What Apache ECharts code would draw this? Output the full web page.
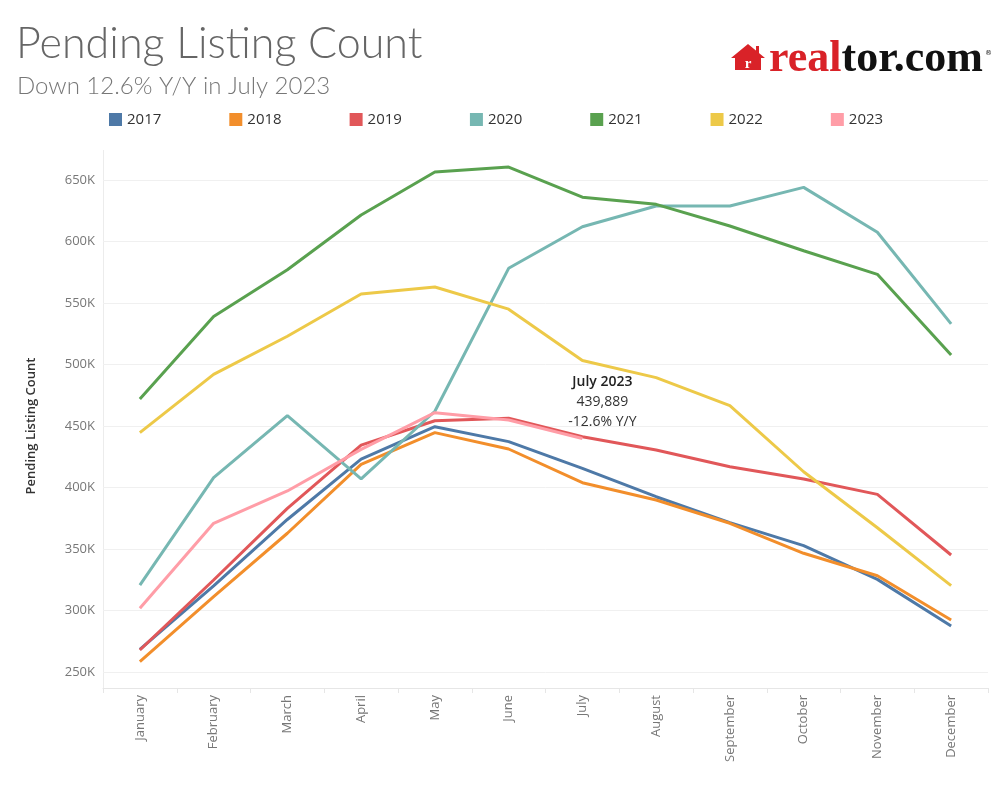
<!DOCTYPE html>
<html>
<head>
<meta charset="utf-8">
<script src="https://cdn.jsdelivr.net/npm/echarts@6/dist/echarts.min.js"></script>
<style>html,body{margin:0;padding:0;background:#fff;}#chart{width:1000px;height:800px;}</style>
</head>
<body>
<div id="chart"></div>
<script>
const months = ['January','February','March','April','May','June','July','August','September','October','November','December'];
const years = ['2017','2018','2019','2020','2021','2022','2023'];
const y2017 = [268400, 320000, 374000, 423000, 449400, 437300, 415600, 392500, 371400, 352700, 325300, 287400];
const y2018 = [258400, 311200, 362800, 418800, 444600, 431300, 403900, 389800, 370900, 346500, 328300, 292300];
const y2019 = [267900, 324800, 383000, 434500, 454300, 456300, 441300, 430500, 416900, 406900, 394400, 345100];
const y2020 = [320700, 408000, 458400, 407000, 462000, 578200, 612000, 628900, 628900, 644000, 607500, 533000];
const y2021 = [472000, 539000, 577000, 621500, 656500, 660500, 636000, 630200, 612600, 592500, 573300, 507700];
const y2022 = [444600, 492000, 523000, 557300, 563000, 545000, 503300, 489300, 466500, 412800, 367300, 320200];
const y2023 = [301800, 370900, 397200, 431000, 460800, 454900, 439889];
const yTicks = [250000, 300000, 350000, 400000, 450000, 500000, 550000, 600000, 650000];

const colors = ['#4e79a7','#f28e2b','#e15759','#76b7b2','#59a14f','#edc948','#ff9da7'];
const seriesData = [y2017, y2018, y2019, y2020, y2021, y2022, y2023];

const lastIdx = y2023.length - 1;
const lastVal = y2023[lastIdx];
const prevVal = y2022[lastIdx];
const yoy = ((lastVal / prevVal - 1) * 100).toFixed(1);

const chart = echarts.init(document.getElementById('chart'), null, {renderer: 'canvas'});

const series = years.map((y, i) => {
  const s = {
    name: y,
    type: 'line',
    data: seriesData[i],
    symbol: 'none',
    clip: false,
    lineStyle: {width: 3, color: colors[i]},
    itemStyle: {color: colors[i]},
    emphasis: {disabled: true},
    z: 2 + i
  };
  if (y === '2023') {
    s.markPoint = {
      symbol: 'circle',
      symbolSize: 0,
      data: [{coord: [months[lastIdx], lastVal]}],
      label: {
        show: true,
        position: 'inside',
        offset: [20, -36],
        align: 'center',
        verticalAlign: 'middle',
        lineHeight: 20,
        formatter: '{b|' + months[lastIdx] + ' 2023}\n{n|' + lastVal.toLocaleString('en-US') + '}\n{n|' + yoy + '% Y/Y}',
        rich: {
          b: {fontFamily: 'Open Sans', fontSize: 14, fontWeight: 600, color: '#222', lineHeight: 20},
          n: {fontFamily: 'Open Sans', fontSize: 14, color: '#333', lineHeight: 20}
        }
      }
    };
  }
  return s;
});

chart.setOption({
  backgroundColor: '#fff',
  animation: false,
  color: colors,
  title: [
    {text: 'Pending Listing Count', left: 11, top: 18,
     textStyle: {fontFamily: 'Lato', fontWeight: 300, fontSize: 43, color: '#666'}},
    {text: 'Down ' + Math.abs(yoy) + '% Y/Y in July 2023', left: 12, top: 69,
     textStyle: {fontFamily: 'Lato', fontWeight: 300, fontSize: 24, color: '#777'}}
  ],
  legend: {
    left: 104, top: 107,
    icon: 'rect',
    itemWidth: 13, itemHeight: 13, itemGap: 68,
    textStyle: {fontFamily: 'Open Sans', fontSize: 15, color: '#333'},
    data: years
  },
  grid: {left: 103, right: 12, top: 180, bottom: 128, containLabel: false},
  xAxis: {
    type: 'category',
    data: months,
    boundaryGap: true,
    offset: 16,
    axisLine: {show: true, lineStyle: {color: '#e6e6e6'}},
    axisTick: {show: true, length: 5, lineStyle: {color: '#e6e6e6'}},
    axisLabel: {rotate: 90, fontFamily: 'Open Sans', fontSize: 13, color: '#777', margin: 7}
  },
  yAxis: {
    type: 'value',
    min: yTicks[0], max: yTicks[yTicks.length - 1], interval: 50000,
    name: 'Pending Listing Count',
    nameLocation: 'middle',
    nameGap: 65,
    nameTextStyle: {fontFamily: 'Open Sans', fontSize: 13, fontWeight: 600, color: '#333'},
    axisLine: {show: false},
    axisTick: {show: false},
    splitLine: {lineStyle: {color: '#f0f0f0', width: 1}},
    axisLabel: {fontFamily: 'Open Sans', fontSize: 13, color: '#777', margin: 8,
      formatter: v => (v / 1000) + 'K'}
  },
  graphic: [
    {type: 'line', shape: {x1: 103.5, y1: 150, x2: 103.5, y2: 688}, style: {stroke: '#ececec', lineWidth: 1}, silent: true},
    {type: 'polygon', shape: {points: [[748,44],[765,58],[761,58],[761,70],[735,70],[735,58],[731,58]]}, style: {fill: '#d92228'}, silent: true},
    {type: 'rect', shape: {x: 756, y: 46, width: 3, height: 7}, style: {fill: '#d92228'}, silent: true},
    {type: 'text', x: 748, y: 64, style: {text: 'r', fill: '#fff', font: 'bold 15px "Liberation Serif"', align: 'center', verticalAlign: 'middle'}, silent: true},
    {type: 'text', x: 769, y: 60, silent: true,
     style: {
       text: '{r|real}{k|tor.com}',
       verticalAlign: 'middle', align: 'left',
       font: 'bold 44px "Liberation Serif"',
       rich: {
         r: {fill: '#d92228', fontFamily: 'Liberation Serif', fontWeight: 'bold', fontSize: 44},
         k: {fill: '#111', fontFamily: 'Liberation Serif', fontWeight: 'bold', fontSize: 44}
       }
     }},
    {type: 'text', x: 985, y: 50, style: {text: '®', fill: '#111', font: '7px "DejaVu Sans"'}, silent: true}
  ],
  series: series
});
</script>
</body>
</html>
